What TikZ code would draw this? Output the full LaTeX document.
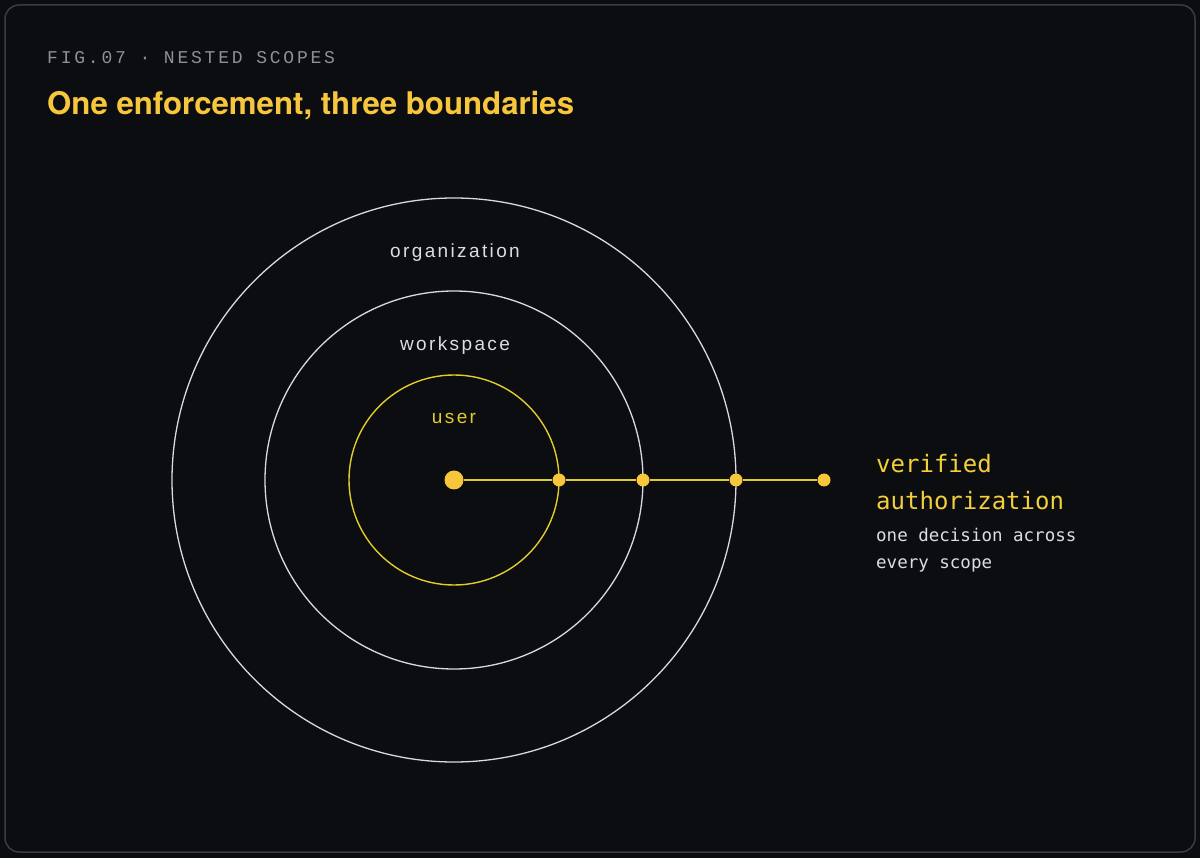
\documentclass[tikz,border=0pt]{standalone}
\usepackage{fontspec}
\setmainfont{Liberation Sans}
\newfontfamily\monofig[LetterSpace=15.5]{Liberation Mono}
\newfontfamily\monolbl{DejaVu Sans Mono}
\newfontfamily\sanslbl[LetterSpace=12.5]{Liberation Sans}
\newfontfamily\titlefont{TeX Gyre Heros}
\definecolor{bg}{HTML}{0B0D11}
\definecolor{frame}{HTML}{3A3C41}
\definecolor{gold}{HTML}{F7C63C}
\definecolor{lemon}{HTML}{E2CC2A}
\definecolor{sideyellow}{HTML}{F3CF3A}
\definecolor{ringgray}{HTML}{D9DADE}
\definecolor{dimtext}{HTML}{8E9096}
\definecolor{lighttext}{HTML}{DCDDE0}
\tikzset{
  ring/.style={draw=ringgray, line width=1.3pt},
  userring/.style={draw=lemon, line width=1.4pt},
  bigdot/.style={circle, fill=gold, inner sep=0pt, minimum size=19pt},
  smalldot/.style={circle, fill=gold, inner sep=0pt, minimum size=13pt},
  ringlabel/.style={text=lighttext, font=\sanslbl\fontsize{19}{21}\selectfont, inner sep=0pt, anchor=base},
  sidetitle/.style={text=sideyellow, font=\monolbl\fontsize{24}{28}\selectfont, inner sep=0pt, anchor=base west},
  sidenote/.style={text=lighttext, font=\monolbl\fontsize{17.5}{20}\selectfont, inner sep=0pt, anchor=base west}
}
\begin{document}
\begin{tikzpicture}[x=1pt,y=-1pt]
\useasboundingbox (0,0) rectangle (1200,858);
\fill[bg] (0,0) rectangle (1200,858);
\draw[frame, line width=1.5pt, fill=bg, rounded corners=14pt] (5,5) rectangle (1195,852);
\node[text=dimtext, font=\monofig\fontsize{18}{20}\selectfont, inner sep=0pt, anchor=base west] (fig) at (47,64) {FIG.07 · NESTED SCOPES};
\node[text=gold, font=\titlefont\bfseries\fontsize{31.2}{35}\selectfont, inner sep=0pt, anchor=base west] (title) at (47,115) {One enforcement, three boundaries};
\coordinate (c) at (454,480);
\draw[ring] (c) circle[radius=282];
\draw[ring] (c) circle[radius=189];
\draw[userring] (c) circle[radius=105];
\node[ringlabel] (org) at (455,258) {organization};
\node[ringlabel] (ws) at (455,351) {workspace};
\node[ringlabel, text=lemon] (usr) at (454,424) {user};
\node[bigdot] (d0) at (c) {};
\node[smalldot] (d1) at (559,480) {};
\node[smalldot] (d2) at (643,480) {};
\node[smalldot] (d3) at (736,480) {};
\node[smalldot] (d4) at (824,480) {};
\draw[lemon, line width=1.8pt] (d0) -- (d1) -- (d2) -- (d3) -- (d4);
\node[sidetitle] (v1) at (876,473) {verified};
\node[sidetitle] (v2) at (876,509) {authorization};
\node[sidenote] (n1) at (876,541) {one decision across};
\node[sidenote] (n2) at (876,568) {every scope};
\end{tikzpicture}
\end{document}
